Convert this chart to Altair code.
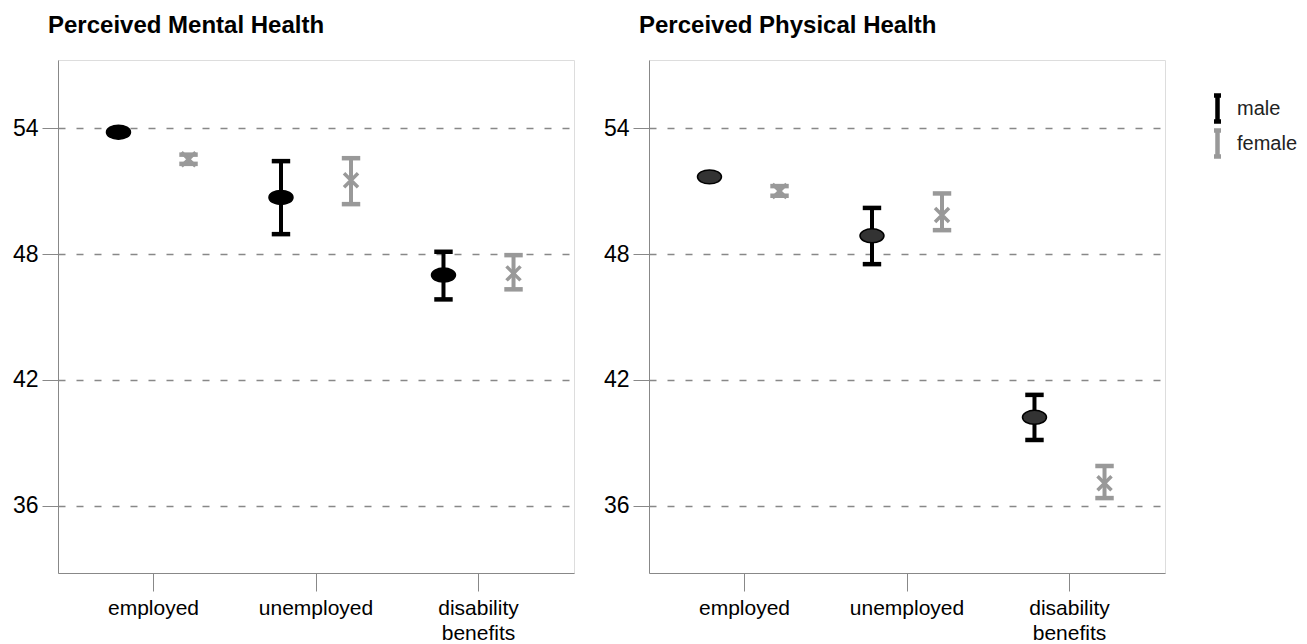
import altair as alt
import pandas as pd

statuses = ["employed", "unemployed", "disability benefits"]
sexes = ["male", "female"]

mental_male_mean = [53.81, 50.70, 47.00]
mental_male_lo = [53.72, 48.95, 45.84]
mental_male_hi = [53.90, 52.43, 48.11]
mental_female_mean = [52.52, 51.52, 47.08]
mental_female_lo = [52.30, 50.38, 46.32]
mental_female_hi = [52.74, 52.57, 47.95]

physical_male_mean = [51.68, 48.87, 40.22]
physical_male_lo = [51.60, 47.52, 39.14]
physical_male_hi = [51.76, 50.20, 41.29]
physical_female_mean = [51.01, 49.86, 37.08]
physical_female_lo = [50.78, 49.14, 36.37]
physical_female_hi = [51.24, 50.89, 37.90]

y_ticks = [36, 42, 48, 54]


def make_df(male_mean, male_lo, male_hi, female_mean, female_lo, female_hi):
    rows = []
    for i, s in enumerate(statuses):
        rows.append({"status": s, "sex": "male", "mean": male_mean[i], "lo": male_lo[i], "hi": male_hi[i]})
        rows.append({"status": s, "sex": "female", "mean": female_mean[i], "lo": female_lo[i], "hi": female_hi[i]})
    return pd.DataFrame(rows)


mental_df = make_df(mental_male_mean, mental_male_lo, mental_male_hi,
                    mental_female_mean, mental_female_lo, mental_female_hi)
physical_df = make_df(physical_male_mean, physical_male_lo, physical_male_hi,
                      physical_female_mean, physical_female_lo, physical_female_hi)

FONT = "Liberation Sans"
ELLIPSE = "M-1,0A1,0.58 0 1,1 1,0A1,0.58 0 1,1 -1,0Z"
XSHAPE = "M-1,-1L1,1M-1,1L1,-1"
IBEAM = "M-0.35,-1.3H0.35M0,-1.3V1.3M-0.35,1.3H0.35"

color_scale = alt.Scale(domain=sexes, range=["#000000", "#999999"])
legend = alt.Legend(
    title=" ", titleFontSize=10, titlePadding=26,
    symbolType=IBEAM, symbolSize=400, symbolStrokeWidth=4.5,
    labelFont=FONT, labelFontSize=20, labelColor="#222222", labelOffset=7,
    rowPadding=-19, orient="right", offset=39, symbolFillColor="transparent",
)
color_enc = alt.Color("sex:N", scale=color_scale, sort=sexes, legend=legend)

y_scale = alt.Scale(domain=[32.8, 57.25], nice=False, zero=False)
y_axis = alt.Axis(values=y_ticks, title=None, grid=True, gridDash=[7, 11],
                  gridColor="#888888", gridWidth=1.5, tickSize=16,
                  labelPadding=4, labelFontSize=23)


def panel(df, title, ellipse_fill):
    base = alt.Chart(df).encode(
        x=alt.X("status:N", sort=statuses, title=None,
                scale=alt.Scale(paddingInner=0, paddingOuter=0.0877),
                axis=alt.Axis(labelAngle=0, tickSize=18, labelPadding=6,
                              labelFontSize=21, labelLineHeight=25,
                              labelExpr="datum.value == 'disability benefits' ? split(datum.value, ' ') : datum.value")),
        xOffset=alt.XOffset("sex:N", sort=sexes,
                            scale=alt.Scale(paddingInner=0, paddingOuter=0.16)),
    )
    rule = base.mark_rule(strokeWidth=4).encode(
        y=alt.Y("lo:Q", scale=y_scale, axis=y_axis),
        y2="hi:Q",
        color=color_enc,
    )
    cap_lo = base.mark_point(shape="stroke", size=340, strokeWidth=4.5, filled=False, opacity=1).encode(
        y=alt.Y("lo:Q"), color=color_enc)
    cap_hi = base.mark_point(shape="stroke", size=340, strokeWidth=4.5, filled=False, opacity=1).encode(
        y=alt.Y("hi:Q"), color=color_enc)
    male_pt = base.transform_filter(alt.datum.sex == "male").mark_point(
        shape=ELLIPSE, size=576, filled=True, fill=ellipse_fill, stroke="#000000",
        strokeWidth=1.5, opacity=1).encode(y=alt.Y("mean:Q"))
    female_pt = base.transform_filter(alt.datum.sex == "female").mark_point(
        shape=XSHAPE, size=196, filled=False, stroke="#999999", strokeWidth=3.5,
        opacity=1).encode(y=alt.Y("mean:Q"))
    return alt.layer(rule, cap_lo, cap_hi, male_pt, female_pt).properties(
        width=516, height=513,
        title=alt.TitleParams(title, anchor="start", frame="group", dx=-10, fontSize=24,
                              font=FONT, fontWeight="bold", offset=22, color="#000000"),
    )


chart = alt.hconcat(
    panel(mental_df, "Perceived Mental Health", "#000000"),
    panel(physical_df, "Perceived Physical Health", "#333333"),
    spacing=27,
).properties(
    padding={"left": 3, "right": 0, "top": 5, "bottom": 0},
).configure_view(
    stroke="#888888", strokeWidth=1.5, fill="#f0f0f0",
).configure_axis(
    labelFont=FONT, labelColor="#222222", domainColor="#333333", domainWidth=1.5,
    tickColor="#333333", tickWidth=1.5,
).configure(background="white")

chart.save("out.html", embed_options={"renderer": "svg", "actions": False})
